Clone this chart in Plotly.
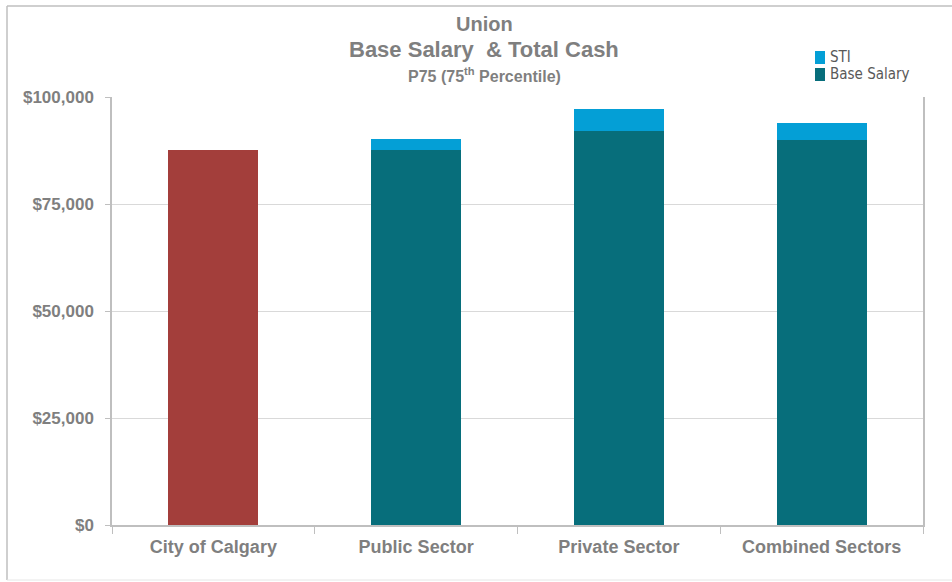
import plotly.graph_objects as go

# ---- data ----
categories = ["City of Calgary", "Public Sector", "Private Sector", "Combined Sectors"]
city_value = [87600]
sector_categories = ["Public Sector", "Private Sector", "Combined Sectors"]
base_salary = [87600, 92000, 90000]
sti = [2600, 5200, 3900]
y_ticks = [0, 25000, 50000, 75000, 100000]

# ---- styles ----
RED = "#A33E3B"
TEAL = "#076E7B"
BLUE = "#049FD6"
GRAY_TXT = "#7F7F7F"
AXIS = "#BFBFBF"
GRID = "#D9D9D9"
FONT = "Liberation Sans, Arial, sans-serif"

W, H = 952, 582
L, R, T, B = 112, 29, 97, 57
pw, ph = W - L - R, H - T - B


def px(x):
    return (x - L) / pw


def py(y):
    return (H - B - y) / ph


fig = go.Figure()
fig.add_trace(go.Bar(x=["City of Calgary"], y=city_value, marker=dict(color=RED, line=dict(width=0)),
                     showlegend=False, name="City of Calgary"))
fig.add_trace(go.Bar(x=sector_categories, y=base_salary, marker=dict(color=TEAL, line=dict(width=0)),
                     name="Base Salary", showlegend=False))
fig.add_trace(go.Bar(x=sector_categories, y=sti, marker=dict(color=BLUE, line=dict(width=0)),
                     name="STI", showlegend=False))

shapes = []
# outer chart border (left, top, bottom)
shapes.append(dict(type="line", xref="paper", yref="paper", x0=px(7), x1=px(7), y0=py(6), y1=py(580),
                   line=dict(color=AXIS, width=1.5)))
shapes.append(dict(type="line", xref="paper", yref="paper", x0=px(7), x1=px(952), y0=py(6), y1=py(6),
                   line=dict(color=AXIS, width=1.5)))
shapes.append(dict(type="line", xref="paper", yref="paper", x0=px(7), x1=px(952), y0=py(580), y1=py(580),
                   line=dict(color="#E6E6E6", width=1)))
# manual legend swatches
shapes.append(dict(type="rect", xref="paper", yref="paper", x0=px(815), x1=px(825), y0=py(64), y1=py(51),
                   fillcolor=BLUE, line=dict(width=0)))
shapes.append(dict(type="rect", xref="paper", yref="paper", x0=px(815), x1=px(825), y0=py(81), y1=py(68),
                   fillcolor=TEAL, line=dict(width=0)))

annotations = [
    dict(text="<b>Union</b>", x=px(484), y=py(24), xref="paper", yref="paper", showarrow=False,
         font=dict(size=20, color=GRAY_TXT, family=FONT), xanchor="center", yanchor="middle"),
    dict(text="<b>Base Salary  & Total Cash</b>", x=px(484), y=py(50), xref="paper", yref="paper",
         showarrow=False, font=dict(size=22, color=GRAY_TXT, family=FONT), xanchor="center", yanchor="middle"),
    dict(text="<b>P75 (75<sup>th</sup> Percentile)</b>", x=px(484), y=py(75), xref="paper", yref="paper",
         showarrow=False, font=dict(size=16, color=GRAY_TXT, family=FONT), xanchor="center", yanchor="middle"),
    dict(text="STI", x=px(828), y=py(57), xref="paper", yref="paper", showarrow=False,
         font=dict(size=15, color="#595959", family="DejaVu Sans Condensed, DejaVu Sans"),
         xanchor="left", yanchor="middle"),
    dict(text="Base Salary", x=px(828), y=py(74), xref="paper", yref="paper", showarrow=False,
         font=dict(size=15, color="#595959", family="DejaVu Sans Condensed, DejaVu Sans"),
         xanchor="left", yanchor="middle"),
]

fig.update_layout(
    width=W, height=H,
    margin=dict(l=L, r=R, t=T, b=B, pad=0),
    barmode="stack",
    bargap=0.556,
    plot_bgcolor="white", paper_bgcolor="white",
    font=dict(family=FONT, color=GRAY_TXT),
    shapes=shapes,
    annotations=annotations,
    showlegend=False,
)
fig.update_xaxes(
    categoryorder="array", categoryarray=categories,
    showline=True, linecolor=AXIS, linewidth=1.5,
    ticks="outside", tickson="boundaries", ticklen=7, tickcolor=AXIS, tickwidth=1,
    tickfont=dict(size=18, color=GRAY_TXT, family=FONT, weight="bold"),
    showgrid=False,
    ticklabelstandoff=5,
)
fig.update_yaxes(
    range=[0, 100000], tickvals=y_ticks, tickformat="$,.0f",
    showline=True, linecolor=AXIS, linewidth=1.5, mirror=True,
    ticks="outside", ticklen=5, tickcolor=AXIS,
    tickfont=dict(size=17, color=GRAY_TXT, family=FONT, weight="bold"),
    showgrid=True, gridcolor=GRID, gridwidth=1,
    zeroline=False,
    ticklabelstandoff=8,
)

fig.write_html("out.html", config={"displayModeBar": False},
               post_script="document.body.style.margin='0';document.body.style.overflow='hidden';")
